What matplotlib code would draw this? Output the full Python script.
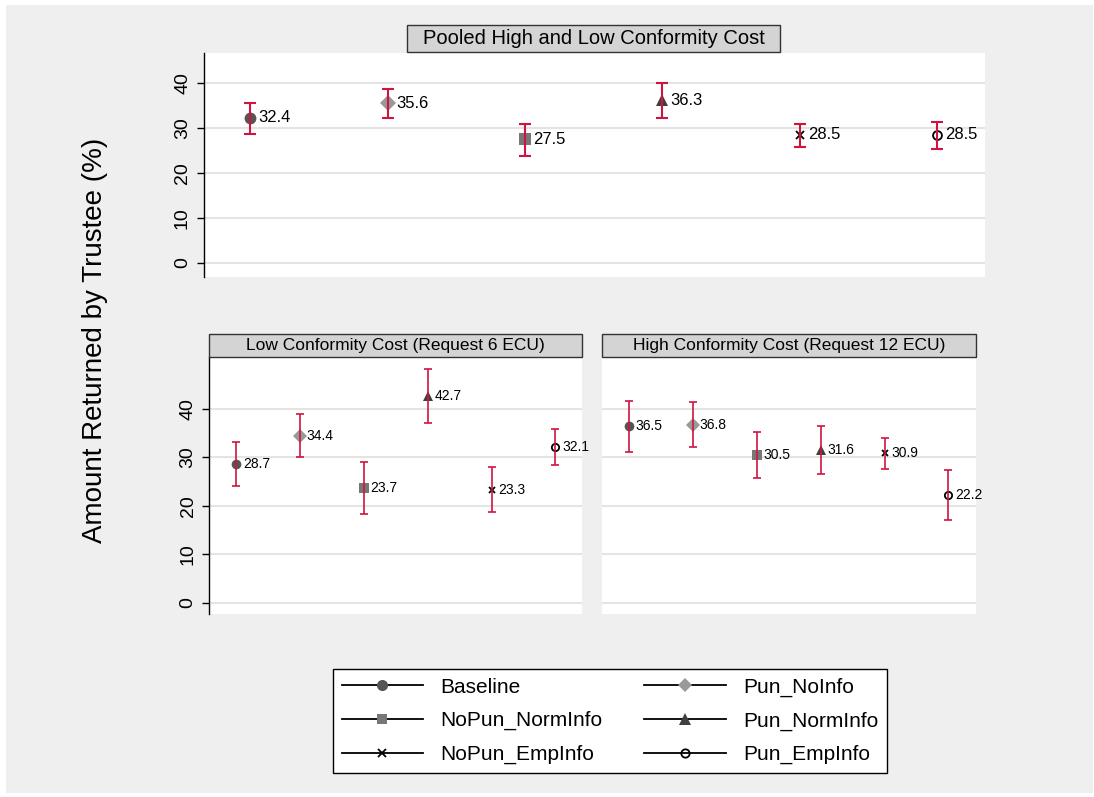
import numpy as np
import matplotlib
matplotlib.use('Agg')
import matplotlib.pyplot as plt
from matplotlib.lines import Line2D
from matplotlib.patches import Rectangle

plt.rcParams['font.family'] = ['Liberation Sans', 'DejaVu Sans']

# treatments, in the order they are drawn
treatments = ['Baseline', 'Pun_NoInfo', 'NoPun_NormInfo',
              'Pun_NormInfo', 'NoPun_EmpInfo', 'Pun_EmpInfo']

# pooled high and low conformity cost
pooled_mean = [32.4, 35.6, 27.5, 36.3, 28.5, 28.5]
pooled_lo = [28.7, 32.2, 23.8, 32.4, 25.8, 25.4]
pooled_hi = [35.7, 38.7, 30.9, 40.0, 31.0, 31.4]

# low conformity cost (request 6 ECU)
low_mean = [28.7, 34.4, 23.7, 42.7, 23.3, 32.1]
low_lo = [24.2, 30.0, 18.4, 37.2, 18.7, 28.4]
low_hi = [33.2, 39.0, 29.0, 48.3, 28.0, 35.8]

# high conformity cost (request 12 ECU)
high_mean = [36.5, 36.8, 30.5, 31.6, 30.9, 22.2]
high_lo = [31.2, 32.1, 25.7, 26.5, 27.7, 17.1]
high_hi = [41.7, 41.5, 35.3, 36.6, 34.1, 27.4]

yticks = [0, 10, 20, 30, 40]

MARKERS = {
    'Baseline': dict(marker='o', mfc='#555555', mec='#555555'),
    'Pun_NoInfo': dict(marker='D', mfc='#999999', mec='#999999'),
    'NoPun_NormInfo': dict(marker='s', mfc='#777777', mec='#777777'),
    'Pun_NormInfo': dict(marker='^', mfc='#404040', mec='#404040'),
    'NoPun_EmpInfo': dict(marker='x', mfc='black', mec='black'),
    'Pun_EmpInfo': dict(marker='o', mfc='none', mec='black'),
}
ERR_COLOR = '#d0143f'
BG = '#efefef'
W, H = 1094, 797


def fx(px):
    return px / W


def fy(py):
    return 1 - py / H


def marker_scale(st):
    if st['mfc'] == 'none':
        return 0.75
    return {'o': 1.0, 'D': 0.95, 's': 0.95, '^': 1.0, 'x': 0.7}[st['marker']]


def edge_width(st):
    if st['marker'] == 'x' or st['mfc'] == 'none':
        return 1.3
    return 0


def draw_panel(ax, means, lo, hi, ms, cap, elw, fs, offset, xlim, ylim):
    x = np.arange(1, len(means) + 1)
    ax.set_facecolor('white')
    for xi, name, m, l, h in zip(x, treatments, means, lo, hi):
        st = MARKERS[name]
        ax.plot(xi, m, linestyle='none', markersize=ms * marker_scale(st),
                markeredgewidth=edge_width(st), zorder=3, **st)
        ax.errorbar(xi, m, yerr=[[m - l], [h - m]], fmt='none', ecolor=ERR_COLOR,
                    elinewidth=elw, capsize=cap, capthick=elw, zorder=4)
        ax.annotate(f'{m:.1f}', (xi, m), xytext=(offset, 0), textcoords='offset points',
                    ha='left', va='center', fontsize=fs, color='black', zorder=5)
    ax.set_xlim(*xlim)
    ax.set_ylim(*ylim)
    ax.set_yticks(yticks)
    ax.grid(axis='y', color='#e4e4e4', linewidth=1.5)
    ax.set_axisbelow(True)
    ax.set_xticks([])
    for side in ['top', 'right', 'bottom']:
        ax.spines[side].set_visible(False)
    ax.spines['left'].set_linewidth(1.0)
    ax.tick_params(axis='y', length=5, width=1.0, labelsize=14, pad=4,
                   labelrotation=90)
    for lab in ax.get_yticklabels():
        lab.set_va('center')


def title_box(x0, y0, x1, y1, text, fs):
    fig.patches.append(Rectangle((fx(x0), fy(y1)), fx(x1) - fx(x0), fy(y0) - fy(y1),
                                 transform=fig.transFigure, facecolor='#d4d4d4',
                                 edgecolor='#333333', linewidth=1.0, zorder=2))
    fig.text(fx((x0 + x1) / 2), fy((y0 + y1) / 2), text, ha='center', va='center',
             fontsize=fs, zorder=3)


fig = plt.figure(figsize=(W / 100, H / 100), dpi=100, facecolor='white')
fig.patches.append(Rectangle((fx(6), fy(793)), fx(1093) - fx(6), fy(5) - fy(793),
                             transform=fig.transFigure, facecolor=BG,
                             edgecolor='none', zorder=-5))

ax_top = fig.add_axes([fx(203.5), fy(277), fx(985) - fx(203.5), fy(53) - fy(277)])
ax_low = fig.add_axes([fx(209), fy(614.3), fx(582.3) - fx(209), fy(357.3) - fy(614.3)])
ax_high = fig.add_axes([fx(601.7), fy(614.3), fx(976) - fx(601.7), fy(357.3) - fy(614.3)])
for a in (ax_top, ax_low, ax_high):
    a.set_zorder(1)

draw_panel(ax_top, pooled_mean, pooled_lo, pooled_hi, ms=8.5, cap=4, elw=1.5, fs=12,
           offset=6, xlim=(0.66, 6.35), ylim=(-3.2, 46.8))
draw_panel(ax_low, low_mean, low_lo, low_hi, ms=7, cap=3, elw=1.2, fs=10,
           offset=5, xlim=(0.58, 6.42), ylim=(-2.4, 50.7))
draw_panel(ax_high, high_mean, high_lo, high_hi, ms=7, cap=3, elw=1.2, fs=10,
           offset=5, xlim=(0.58, 6.43), ylim=(-2.4, 50.7))
ax_high.spines['left'].set_visible(False)
ax_high.tick_params(axis='y', left=False, labelleft=False)

title_box(407, 25, 780, 52, 'Pooled High and Low Conformity Cost', 14.5)
title_box(209, 334, 582.3, 357.3, 'Low Conformity Cost (Request 6 ECU)', 12.5)
title_box(601.7, 334, 976, 357.3, 'High Conformity Cost (Request 12 ECU)', 12.5)

fig.text(fx(95), fy(340), 'Amount Returned by Trustee (%)', rotation=90,
         ha='center', va='center', fontsize=20)

# legend, filled row by row like the original (matplotlib fills column by column)
order = [0, 2, 4, 1, 3, 5]
handles = []
labels = []
for i in order:
    name = treatments[i]
    st = MARKERS[name]
    handles.append(Line2D([], [], color='black', linewidth=1.3,
                          markersize=8 * marker_scale(st),
                          markeredgewidth=edge_width(st), **st))
    labels.append(name)
leg = fig.legend(handles, labels, ncol=2, loc='center',
                 bbox_to_anchor=(fx(610), fy(721)), fontsize=15, frameon=True,
                 fancybox=False, edgecolor='black', facecolor='white',
                 handlelength=3.9, handletextpad=0.85, columnspacing=2.0,
                 labelspacing=0.7, borderpad=0.4)
leg.get_frame().set_linewidth(1.0)
leg.get_frame().set_alpha(1)
leg.set_zorder(2)

fig.savefig('out.png', dpi=100, facecolor='white')
